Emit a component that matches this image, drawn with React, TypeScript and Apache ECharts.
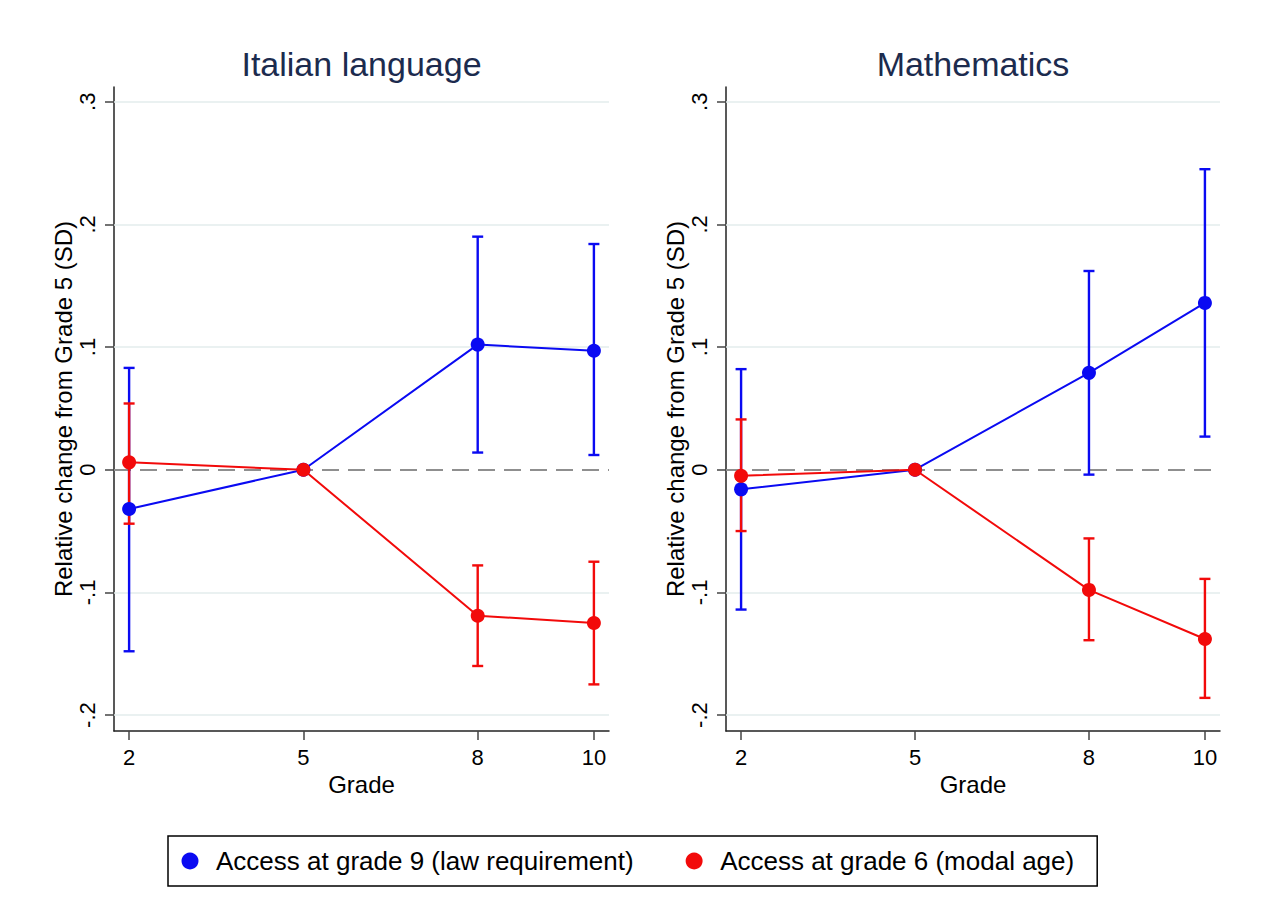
import React, { useEffect, useRef } from "react";
import * as echarts from "echarts";

const grades = [2, 5, 8, 10];
const xTicks = [2, 5, 8, 10];
const yTicks = [-0.2, -0.1, 0, 0.1, 0.2, 0.3];
const gridVals = [-0.2, -0.1, 0.1, 0.2, 0.3];

const panelTitles = ["Italian language", "Mathematics"];
const blueName = "Access at grade 9 (law requirement)";
const redName = "Access at grade 6 (modal age)";

// Italian language
const itaBlue = [-0.032, 0, 0.102, 0.097];
const itaBlueLo = [-0.148, null, 0.014, 0.012];
const itaBlueHi = [0.083, null, 0.19, 0.184];
const itaRed = [0.006, 0, -0.119, -0.125];
const itaRedLo = [-0.044, null, -0.16, -0.175];
const itaRedHi = [0.054, null, -0.078, -0.075];

// Mathematics
const matBlue = [-0.016, 0, 0.079, 0.136];
const matBlueLo = [-0.114, null, -0.004, 0.027];
const matBlueHi = [0.082, null, 0.162, 0.245];
const matRed = [-0.005, 0, -0.098, -0.138];
const matRedLo = [-0.05, null, -0.139, -0.186];
const matRedHi = [0.041, null, -0.056, -0.089];

const BLUE = "#0a0af2";
const RED = "#f20a0a";
const FONT = "'Liberation Sans', Arial, sans-serif";

function ciData(lo: (number | null)[], hi: (number | null)[]) {
  const out: number[][] = [];
  grades.forEach((g, i) => {
    if (lo[i] !== null && hi[i] !== null) out.push([g, lo[i] as number, hi[i] as number]);
  });
  return out;
}

function ciSeries(name: string, idx: number, lo: (number | null)[], hi: (number | null)[], color: string, z: number) {
  return {
    type: "custom",
    name,
    xAxisIndex: idx,
    yAxisIndex: idx,
    z,
    silent: true,
    encode: { x: 0, y: [1, 2] },
    data: ciData(lo, hi),
    renderItem: (params: any, api: any) => {
      const x = api.value(0);
      const pLo = api.coord([x, api.value(1)]);
      const pHi = api.coord([x, api.value(2)]);
      const w = 5.5;
      const st = { stroke: color, lineWidth: 2.4 };
      return {
        type: "group",
        children: [
          { type: "line", shape: { x1: pHi[0], y1: pHi[1], x2: pLo[0], y2: pLo[1] }, style: st },
          { type: "line", shape: { x1: pHi[0] - w, y1: pHi[1], x2: pHi[0] + w, y2: pHi[1] }, style: st },
          { type: "line", shape: { x1: pLo[0] - w, y1: pLo[1], x2: pLo[0] + w, y2: pLo[1] }, style: st },
        ],
      };
    },
  };
}

function lineSeries(name: string, idx: number, vals: number[], color: string, z: number, withGrid: boolean) {
  const s: any = {
    type: "line",
    name,
    xAxisIndex: idx,
    yAxisIndex: idx,
    z,
    data: grades.map((g, i) => [g, vals[i]]),
    symbol: "circle",
    symbolSize: 14,
    showSymbol: true,
    lineStyle: { color, width: 2 },
    itemStyle: { color },
    emphasis: { disabled: true },
  };
  if (withGrid) {
    s.markLine = {
      silent: true,
      symbol: "none",
      z: 1,
      label: { show: false },
      animation: false,
      data: [
        ...gridVals.map((v) => ({ yAxis: v, lineStyle: { color: "#e3eced", width: 1.5, type: "solid" } })),
        { yAxis: 0, lineStyle: { color: "#8f8f8f", width: 2, type: [17, 9] } },
      ],
    };
  }
  return s;
}

const yFmt = (v: number) => {
  const r = Math.round(v * 10);
  if (r === 0) return "0";
  return (r < 0 ? "-" : "") + "." + Math.abs(r);
};

function makeAxes(idx: number) {
  const x = {
    type: "value",
    gridIndex: idx,
    min: 1.74,
    max: 10.26,
    name: "Grade",
    nameLocation: "middle",
    nameGap: 40,
    nameTextStyle: { fontSize: 24, color: "#000", fontFamily: FONT },
    splitLine: { show: false },
    axisLine: { show: true, onZero: false, lineStyle: { color: "#222", width: 1.5 } },
    axisTick: { show: true, customValues: xTicks, length: 9, lineStyle: { color: "#444", width: 1.5 } },
    axisLabel: { customValues: xTicks, fontSize: 22, color: "#000", fontFamily: FONT, margin: 15 },
  };
  const y = {
    type: "value",
    gridIndex: idx,
    min: -0.213,
    max: 0.312,
    name: "Relative change from Grade 5 (SD)",
    nameLocation: "middle",
    nameGap: 39,
    nameTextStyle: { fontSize: 24, color: "#000", fontFamily: FONT },
    splitLine: { show: false },
    axisLine: { show: true, onZero: false, lineStyle: { color: "#222", width: 1.5 } },
    axisTick: { show: true, customValues: yTicks, length: 9, lineStyle: { color: "#444", width: 1.5 } },
    axisLabel: {
      customValues: yTicks,
      rotate: 90,
      fontSize: 22,
      color: "#000",
      fontFamily: FONT,
      margin: 16,
      formatter: yFmt,
    },
  };
  return { x, y };
}

export default function App() {
  const ref = useRef<HTMLDivElement>(null);
  useEffect(() => {
    if (!ref.current) return;
    const chart = echarts.init(ref.current, null, { renderer: "svg" });
    const a0 = makeAxes(0);
    const a1 = makeAxes(1);
    const titleStyle = { fontSize: 34, fontWeight: "normal", color: "#1c2b4e", fontFamily: FONT };
    const option: any = {
      animation: false,
      backgroundColor: "#ffffff",
      textStyle: { fontFamily: FONT },
      title: [
        {
          text: panelTitles[0],
          left: 361.5,
          top: 64,
          padding: 0,
          textAlign: "center",
          textVerticalAlign: "middle",
          textStyle: titleStyle,
        },
        {
          text: panelTitles[1],
          left: 973,
          top: 64,
          padding: 0,
          textAlign: "center",
          textVerticalAlign: "middle",
          textStyle: titleStyle,
        },
      ],
      grid: [
        { left: 114, top: 87, width: 495, height: 644, containLabel: false },
        { left: 726, top: 87, width: 494, height: 644, containLabel: false },
      ],
      xAxis: [a0.x, a1.x],
      yAxis: [a0.y, a1.y],
      legend: {
        left: 168,
        top: 836,
        orient: "horizontal",
        selectedMode: false,
        data: [
          { name: blueName, icon: "circle" },
          { name: redName, icon: "circle" },
        ],
        itemWidth: 42,
        itemHeight: 17,
        itemGap: 52,
        padding: [12, 23, 12, 13.5],
        borderColor: "#000",
        borderWidth: 1.5,
        textStyle: { fontSize: 26, color: "#000", fontFamily: FONT },
      },
      series: [
        ciSeries("ci-ita-blue", 0, itaBlueLo, itaBlueHi, BLUE, 2),
        ciSeries("ci-ita-red", 0, itaRedLo, itaRedHi, RED, 3),
        lineSeries(blueName, 0, itaBlue, BLUE, 4, true),
        lineSeries(redName, 0, itaRed, RED, 5, false),
        ciSeries("ci-mat-blue", 1, matBlueLo, matBlueHi, BLUE, 2),
        ciSeries("ci-mat-red", 1, matRedLo, matRedHi, RED, 3),
        lineSeries(blueName, 1, matBlue, BLUE, 4, true),
        lineSeries(redName, 1, matRed, RED, 5, false),
      ],
    };
    chart.setOption(option);
    return () => chart.dispose();
  }, []);
  return (
    <div
      ref={ref}
      style={{ position: "absolute", left: 0, top: 0, width: 1265, height: 920, background: "#fff" }}
    />
  );
}
